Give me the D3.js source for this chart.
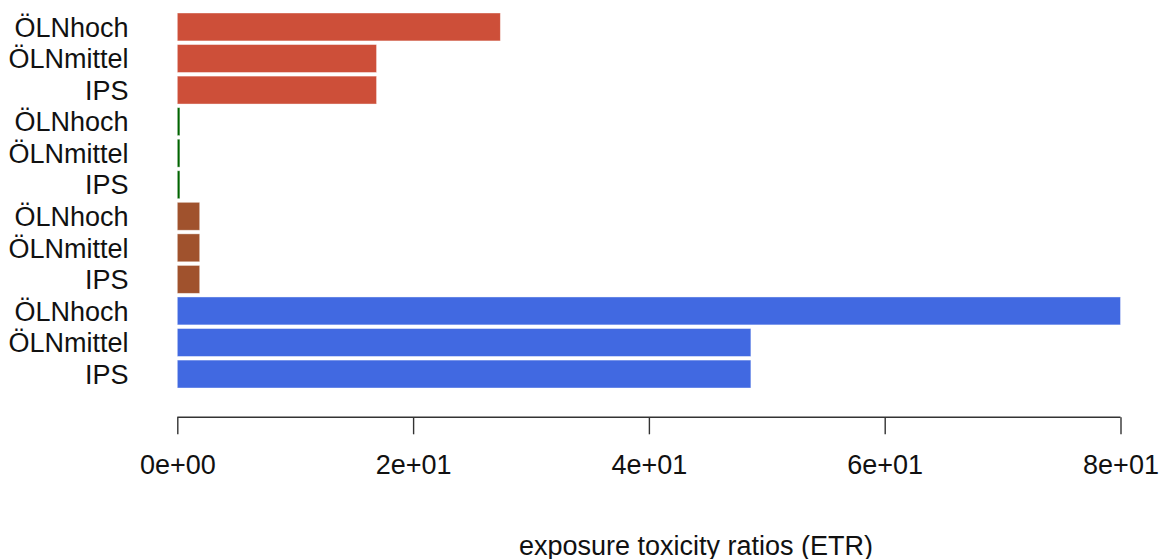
<!DOCTYPE html>
<html>
<head>
<meta charset="utf-8">
<script src="https://cdn.jsdelivr.net/npm/d3@7"></script>
<style>
  html, body { margin: 0; padding: 0; background: #fff; }
  svg { display: block; }
  text { font-family: "Liberation Sans", Arial, Helvetica, sans-serif; fill: #111; }
</style>
</head>
<body>
<svg id="chart" width="1160" height="559"></svg>
<script>
// Scenario labels, top to bottom, four groups of three
const labels = ["ÖLNhoch", "ÖLNmittel", "IPS",
                "ÖLNhoch", "ÖLNmittel", "IPS",
                "ÖLNhoch", "ÖLNmittel", "IPS",
                "ÖLNhoch", "ÖLNmittel", "IPS"];
// Exposure toxicity ratios for each bar
const etr = [27.4, 16.9, 16.9,
             0.22, 0.22, 0.22,
             1.9, 1.9, 1.9,
             80.0, 48.65, 48.65];
// Fill colour of each group
const groupColors = ["#CD4F39", "#006400", "#A0522D", "#4169E1"];
const xTicks = [0, 20, 40, 60, 80];
const xTickLabels = ["0e+00", "2e+01", "4e+01", "6e+01", "8e+01"];
const xTitle = "exposure toxicity ratios (ETR)";

const svg = d3.select("#chart");
const idx = d3.range(labels.length);

const x = d3.scaleLinear().domain([0, 80]).range([177.3, 1120.5]);
const y = d3.scaleBand().domain(idx).range([13, 388]).paddingInner(0.115).paddingOuter(0);

// Bars
svg.append("g").selectAll("rect")
  .data(idx)
  .join("rect")
  .attr("x", x(0))
  .attr("y", i => y(i))
  .attr("width", i => x(etr[i]) - x(0))
  .attr("height", y.bandwidth())
  .attr("fill", i => groupColors[Math.floor(i / 3)])
  .attr("stroke", "#fff")
  .attr("stroke-opacity", 0.5)
  .attr("stroke-width", 0.8);

// Category labels
svg.append("g").selectAll("text")
  .data(idx)
  .join("text")
  .attr("x", 128.5)
  .attr("y", i => y(i) + y.bandwidth() / 2)
  .attr("dy", "0.36em")
  .attr("text-anchor", "end")
  .attr("font-size", 27)
  .text(i => labels[i]);

// Bottom axis
const axis = d3.axisBottom(x)
  .tickValues(xTicks)
  .tickFormat((d, i) => xTickLabels[i])
  .tickSize(17)
  .tickSizeOuter(0)
  .tickPadding(21);

const gx = svg.append("g")
  .attr("transform", "translate(0,417.3)")
  .call(axis);
gx.select(".domain").attr("stroke", "#333").attr("stroke-width", 1.4)
  .attr("d", `M${x(0)},0H${x(80)}`);
gx.selectAll(".tick line").attr("stroke", "#333").attr("stroke-width", 1.4);
gx.selectAll(".tick text")
  .attr("font-size", 27)
  .attr("fill", "#111")
  .attr("font-family", "Liberation Sans, Arial, sans-serif");

// Axis title
svg.append("text")
  .attr("x", 696)
  .attr("y", 555)
  .attr("text-anchor", "middle")
  .attr("font-size", 27)
  .text(xTitle);
</script>
</body>
</html>
